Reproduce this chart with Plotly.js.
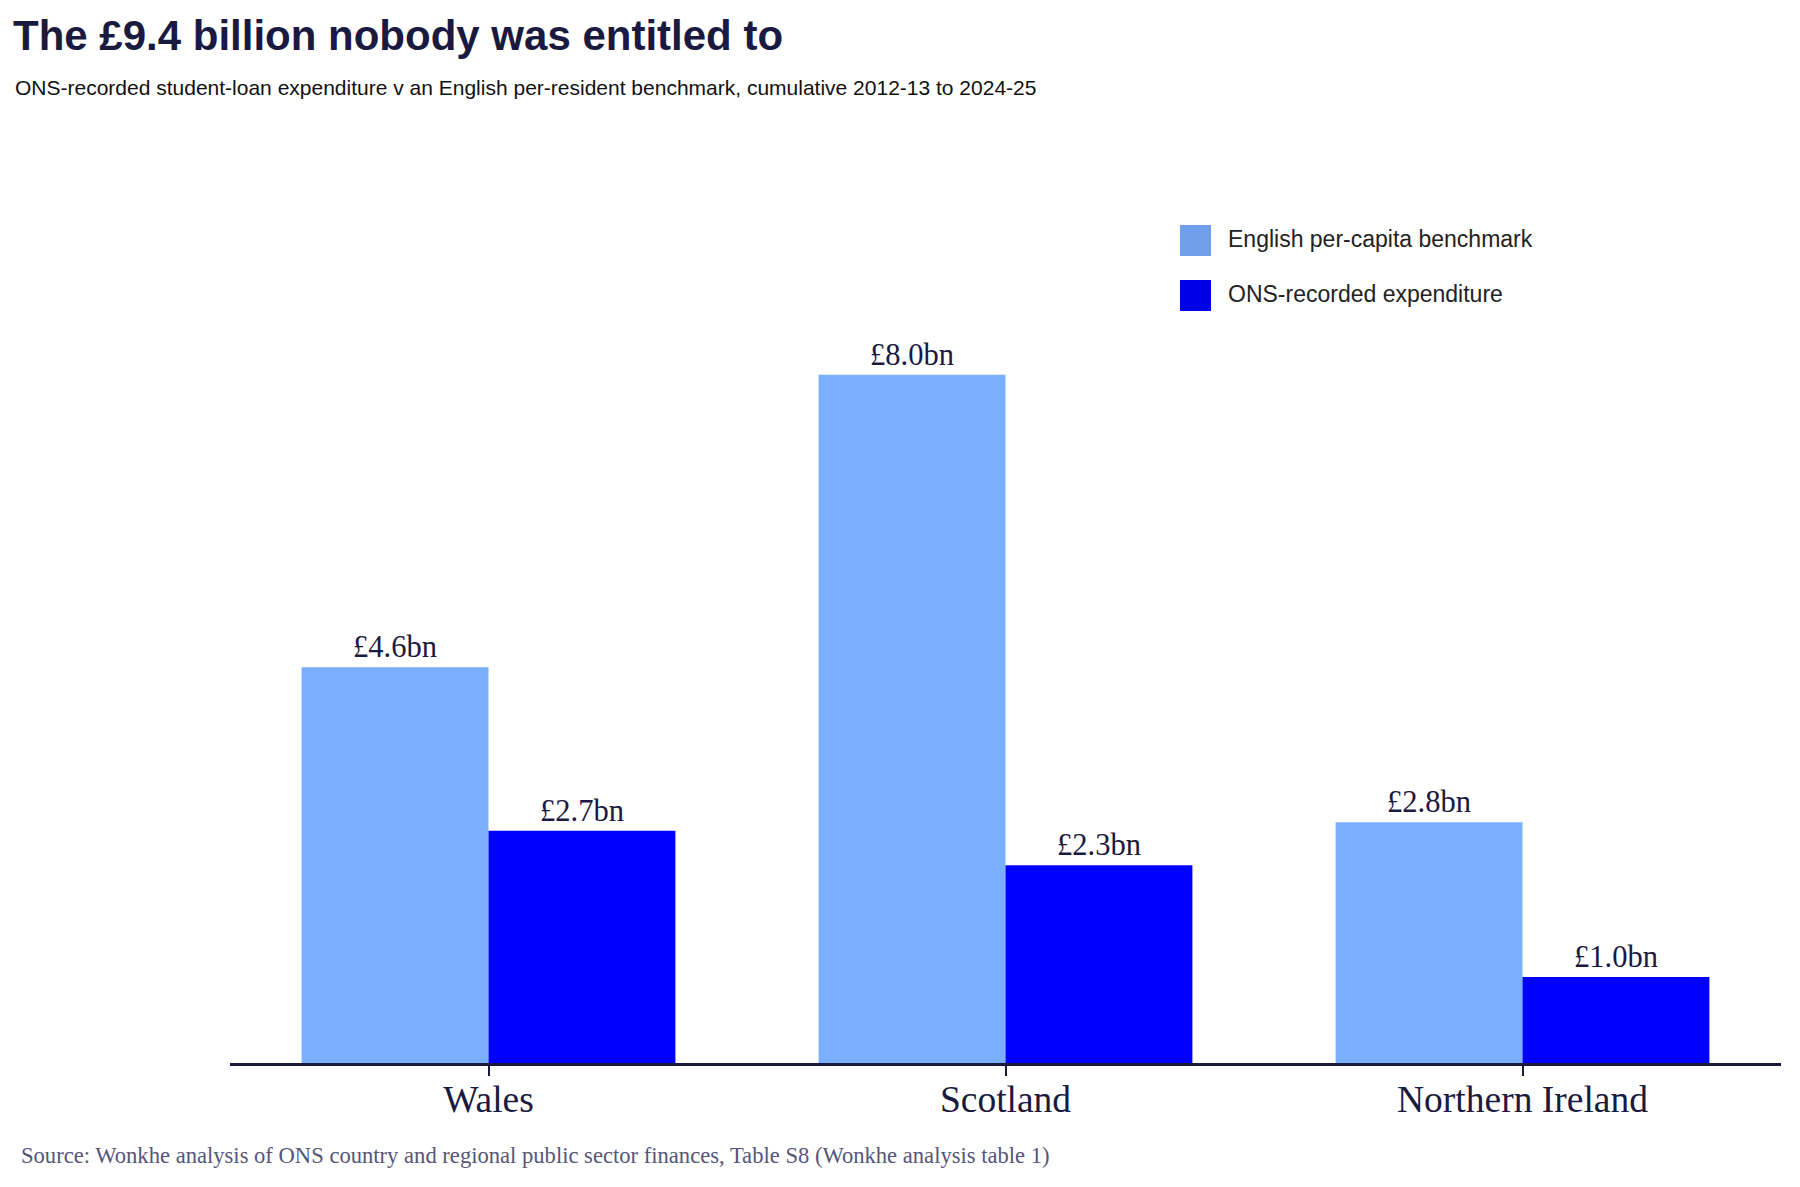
<!DOCTYPE html>
<html>
<head>
<meta charset="utf-8">
<script src="https://cdn.plot.ly/plotly-3.0.1.min.js"></script>
<style>
  html, body { margin: 0; padding: 0; background: #fff; }
  #chart { width: 1800px; height: 1187px; }
</style>
</head>
<body>
<div id="chart"></div>
<script>
// data (GBP billions, cumulative 2012-13 to 2024-25)
var categories = ['Wales', 'Scotland', 'Northern Ireland'];
var benchmark = [4.6, 8.0, 2.8];
var recorded = [2.7, 2.3, 1.0];
var benchmarkLabels = ['£4.6bn', '£8.0bn', '£2.8bn'];
var recordedLabels = ['£2.7bn', '£2.3bn', '£1.0bn'];
var seriesNames = ['English per-capita benchmark', 'ONS-recorded expenditure'];

var navy = '#1a1a40';
var barColors = ['#7aaffe', '#0000ff'];
var swatchColors = ['#6f9fea', '#0000e6'];
var serif = '"Liberation Serif", "DejaVu Serif", serif';
var sans = '"Liberation Sans", Arial, sans-serif';

// plot box in pixels
var W = 1800, H = 1187;
var ml = 230, mr = 19, mt = 306, mb = 124;
var pw = W - ml - mr, ph = H - mt - mb;
function px(x) { return (x - ml) / pw; }
function py(y) { return (H - mb - y) / ph; }

var trace1 = {
	type: 'bar',
	x: categories,
	y: benchmark,
	name: seriesNames[0],
	text: benchmarkLabels,
	textposition: 'outside',
	textfont: {family: serif, size: 30.5, color: navy},
	constraintext: 'none',
	cliponaxis: false,
	marker: {color: barColors[0]},
	hoverinfo: 'skip'
};

var trace2 = {
	type: 'bar',
	x: categories,
	y: recorded,
	name: seriesNames[1],
	text: recordedLabels,
	textposition: 'outside',
	textfont: {family: serif, size: 30.5, color: navy},
	constraintext: 'none',
	cliponaxis: false,
	marker: {color: barColors[1]},
	hoverinfo: 'skip'
};

// hand-made legend, plotly's bar swatches are too small
var shapes = [];
var annotations = [];
var legendTop = [225, 280];
for (var i = 0; i < seriesNames.length; i++) {
	shapes.push({
		type: 'rect', xref: 'paper', yref: 'paper',
		x0: px(1180), x1: px(1211), y0: py(legendTop[i]), y1: py(legendTop[i] + 31),
		fillcolor: swatchColors[i], line: {width: 0}
	});
	annotations.push({
		xref: 'paper', yref: 'paper', x: px(1226), y: py(legendTop[i] + 13.5),
		xanchor: 'left', yanchor: 'middle', showarrow: false,
		text: seriesNames[i],
		font: {family: sans, size: 23, color: '#222222'}
	});
}

annotations.push({
	xref: 'paper', yref: 'paper', x: px(13), y: py(87),
	xanchor: 'left', yanchor: 'middle', showarrow: false,
	text: 'ONS-recorded student-loan expenditure v an English per-resident benchmark, cumulative 2012-13 to 2024-25',
	font: {family: sans, size: 21, color: '#111111'}
});
annotations.push({
	xref: 'paper', yref: 'paper', x: px(19), y: py(1155),
	xanchor: 'left', yanchor: 'middle', showarrow: false,
	text: 'Source: Wonkhe analysis of ONS country and regional public sector finances, Table S8 (Wonkhe analysis table 1)',
	font: {family: serif, size: 22.6, color: '#55557a'}
});

var layout = {
	width: W,
	height: H,
	margin: {l: ml, r: mr, t: mt, b: mb},
	paper_bgcolor: '#ffffff',
	plot_bgcolor: '#ffffff',
	showlegend: false,
	barmode: 'group',
	bargap: 0.277,
	bargroupgap: 0,
	title: {
		text: '<b>The £9.4 billion nobody was entitled to</b>',
		xref: 'container', yref: 'container',
		x: 13 / W, xanchor: 'left',
		y: 1 - 35 / H, yanchor: 'middle',
		font: {family: sans, size: 42, color: navy}
	},
	xaxis: {
		showline: true,
		linecolor: navy,
		linewidth: 3,
		ticks: 'outside',
		ticklen: 10,
		tickwidth: 2,
		tickcolor: navy,
		ticklabelstandoff: -9,
		tickfont: {family: serif, size: 37.5, color: navy},
		showgrid: false,
		zeroline: false,
		fixedrange: true
	},
	yaxis: {
		range: [0, 8.8],
		visible: false,
		showgrid: false,
		zeroline: false,
		fixedrange: true
	},
	shapes: shapes,
	annotations: annotations
};

Plotly.newPlot('chart', [trace1, trace2], layout, {displayModeBar: false, staticPlot: true});
</script>
</body>
</html>
